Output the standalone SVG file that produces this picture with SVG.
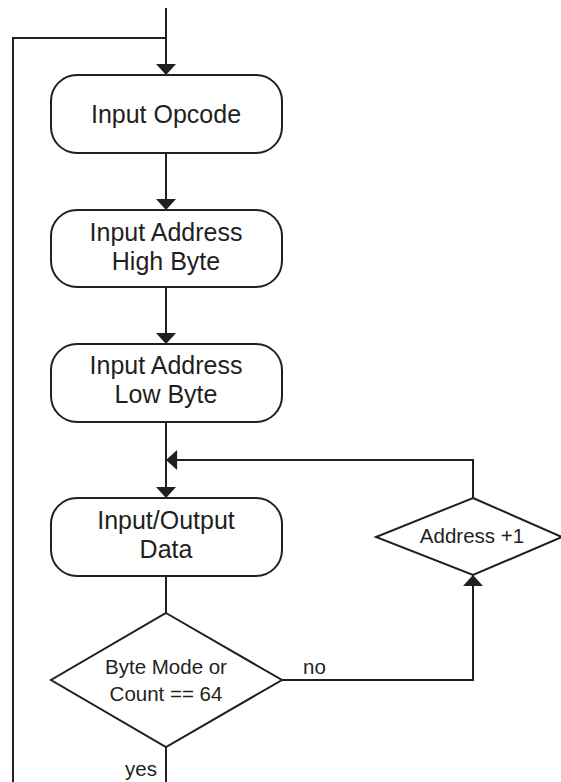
<svg xmlns="http://www.w3.org/2000/svg" width="561" height="782" viewBox="0 0 561 782">
<style>
.s{fill:none;stroke:#231f20;stroke-width:2}
.n{fill:#fff;stroke:#231f20;stroke-width:2}
.t{font-family:"Liberation Sans",Arial,sans-serif;font-size:25px;fill:#231f20;text-anchor:middle}
.d{font-family:"Liberation Sans",Arial,sans-serif;font-size:20.5px;fill:#231f20;text-anchor:middle}
.l{font-family:"Liberation Sans",Arial,sans-serif;font-size:20.5px;fill:#231f20}
</style>
<defs>
<marker id="a" markerUnits="userSpaceOnUse" markerWidth="12" markerHeight="20" viewBox="0 0 10 18" refX="10" refY="9" orient="auto">
<path d="M0,0 L10,9 L0,18 Z" fill="#231f20"/>
</marker>
</defs>
<g id="connectors">
<path class="s" d="M166,8 V75" marker-end="url(#a)"/>
<path class="s" d="M166,38 H13 V782"/>
<path class="s" d="M166,153 V210" marker-end="url(#a)"/>
<path class="s" d="M166,287 V344" marker-end="url(#a)"/>
<path class="s" d="M166,422 V498" marker-end="url(#a)"/>
<path class="s" d="M473,498 V460 H166" marker-end="url(#a)"/>
<path class="s" d="M166,576 V613"/>
<path class="s" d="M282,680 H473 V575" marker-end="url(#a)"/>
<path class="s" d="M166,747 V782"/>
<text class="l" x="303" y="674">no</text>
<text class="l" x="157" y="776" text-anchor="end">yes</text>
</g>
<g id="n1">
<rect class="n" x="51" y="75" width="231" height="78" rx="26"/>
<text class="t" x="166" y="123">Input Opcode</text>
</g>
<g id="n2">
<rect class="n" x="51" y="210" width="231" height="77" rx="26"/>
<text class="t" x="166" y="241">Input Address</text>
<text class="t" x="166" y="270">High Byte</text>
</g>
<g id="n3">
<rect class="n" x="51" y="344" width="231" height="78" rx="26"/>
<text class="t" x="166" y="374">Input Address</text>
<text class="t" x="166" y="403">Low Byte</text>
</g>
<g id="n4">
<rect class="n" x="51" y="498" width="231" height="78" rx="26"/>
<text class="t" x="166" y="529">Input/Output</text>
<text class="t" x="166" y="558">Data</text>
</g>
<g id="n5">
<polygon class="n" points="473,498 562,537 473,575 376,537"/>
<text class="d" x="472" y="543">Address +1</text>
</g>
<g id="n6">
<polygon class="n" points="166,613 282,680 166,747 51,680"/>
<text class="d" x="166" y="674">Byte Mode or</text>
<text class="d" x="166" y="701">Count == 64</text>
</g>
</svg>
